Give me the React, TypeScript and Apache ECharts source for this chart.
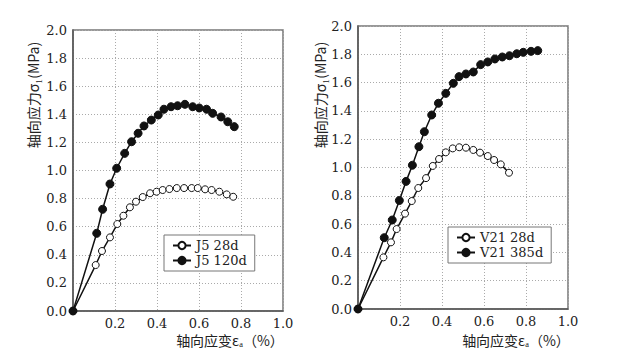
import React, { useEffect, useRef } from "react";
import * as echarts from "echarts";

const yTicks = [0.0, 0.2, 0.4, 0.6, 0.8, 1.0, 1.2, 1.4, 1.6, 1.8, 2.0];
const xTicks = [0.2, 0.4, 0.6, 0.8, 1.0];

const j5_28d_x = [0, 0.108, 0.138, 0.176, 0.211, 0.24, 0.271, 0.3, 0.332, 0.367, 0.398, 0.427, 0.459, 0.494, 0.529, 0.565, 0.594, 0.629, 0.66, 0.697, 0.732, 0.763];
const j5_28d_y = [0, 0.327, 0.427, 0.524, 0.619, 0.678, 0.738, 0.778, 0.811, 0.838, 0.849, 0.861, 0.868, 0.875, 0.875, 0.875, 0.875, 0.866, 0.861, 0.849, 0.83, 0.813];

const j5_120d_x = [0, 0.113, 0.141, 0.176, 0.208, 0.246, 0.279, 0.31, 0.338, 0.373, 0.406, 0.433, 0.467, 0.498, 0.533, 0.57, 0.601, 0.636, 0.665, 0.705, 0.737, 0.768];
const j5_120d_y = [0, 0.553, 0.724, 0.904, 1.016, 1.122, 1.205, 1.265, 1.317, 1.359, 1.395, 1.436, 1.454, 1.461, 1.471, 1.454, 1.445, 1.436, 1.407, 1.381, 1.347, 1.312];

const v21_28d_x = [0, 0.121, 0.157, 0.184, 0.224, 0.256, 0.287, 0.324, 0.356, 0.386, 0.418, 0.451, 0.482, 0.514, 0.549, 0.581, 0.618, 0.648, 0.68, 0.719];
const v21_28d_y = [0, 0.365, 0.471, 0.565, 0.674, 0.763, 0.855, 0.925, 1.011, 1.06, 1.107, 1.135, 1.143, 1.14, 1.124, 1.105, 1.081, 1.053, 1.022, 0.963];

const v21_385d_x = [0, 0.125, 0.163, 0.197, 0.229, 0.259, 0.29, 0.316, 0.351, 0.383, 0.418, 0.454, 0.481, 0.514, 0.549, 0.584, 0.618, 0.652, 0.687, 0.721, 0.756, 0.787, 0.824, 0.856];
const v21_385d_y = [0, 0.504, 0.629, 0.767, 0.902, 1.016, 1.147, 1.253, 1.371, 1.454, 1.524, 1.595, 1.642, 1.661, 1.675, 1.727, 1.746, 1.767, 1.781, 1.79, 1.804, 1.814, 1.821, 1.826];

const legendLeft = ["J5 28d", "J5 120d"];
const legendRight = ["V21 28d", "V21 385d"];

const SERIF = "DejaVu Serif";
const CJK = "Noto Sans CJK SC";

function zip(xs: number[], ys: number[]) {
  return xs.map((x, i) => [x, ys[i]]);
}

export default function App() {
  const ref = useRef<HTMLDivElement>(null);
  useEffect(() => {
    if (!ref.current) return;
    const chart = echarts.init(ref.current, null, { renderer: "svg" });
    const gridCommon = {
      show: true,
      borderColor: "#777",
      borderWidth: 1.5,
      backgroundColor: "transparent",
    };
    const labelStyle = {
      color: "#222",
      fontFamily: SERIF,
      fontSize: 13,
      fontWeight: "normal",
      margin: 6,
    };
    const mkX = (gi: number) => ({
      type: "value",
      gridIndex: gi,
      min: 0,
      max: 1,
      interval: 0.2,
      axisLine: { show: true, lineStyle: { color: "#555", width: 1.5 } },
      axisTick: { show: false },
      splitLine: { show: true, lineStyle: { color: "#aaa", type: [1, 2], width: 1 } },
      axisLabel: {
        ...labelStyle,
        formatter: (v: number) => (xTicks.some((t) => Math.abs(t - v) < 1e-6) ? v.toFixed(1) : ""),
      },
    });
    const mkY = (gi: number) => ({
      type: "value",
      gridIndex: gi,
      min: 0,
      max: 2,
      interval: 0.2,
      axisLine: { show: true, lineStyle: { color: "#555", width: 1.5 } },
      axisTick: { show: false },
      splitLine: { show: true, lineStyle: { color: "#aaa", type: [1, 2], width: 1 } },
      axisLabel: {
        ...labelStyle,
        formatter: (v: number) => (yTicks.some((t) => Math.abs(t - v) < 1e-6) ? v.toFixed(1) : ""),
      },
    });
    const open = (name: string, data: number[][], gi: number) => ({
      name,
      type: "line",
      xAxisIndex: gi,
      yAxisIndex: gi,
      data,
      symbol: "circle",
      symbolSize: 7,
      showAllSymbol: true,
      lineStyle: { color: "#111", width: 1.5 },
      itemStyle: { color: "#fff", borderColor: "#111", borderWidth: 1 },
      z: 3,
    });
    const filled = (name: string, data: number[][], gi: number) => ({
      name,
      type: "line",
      xAxisIndex: gi,
      yAxisIndex: gi,
      data,
      symbol: "circle",
      symbolSize: 8,
      showAllSymbol: true,
      lineStyle: { color: "#111", width: 1.5 },
      itemStyle: { color: "#111", borderColor: "#111", borderWidth: 1 },
      z: 4,
    });
    const legendCommon = {
      orient: "vertical",
      backgroundColor: "#fff",
      borderColor: "#777",
      borderWidth: 1,
      padding: [4, 8, 4, 8],
      itemGap: 2,
      itemWidth: 18,
      itemHeight: 9,
      textStyle: { fontFamily: SERIF, fontSize: 13, color: "#222" },
    };
    const titleStyle = { fontFamily: CJK, fontSize: 14, fill: "#222" };
    chart.setOption({
      animation: false,
      backgroundColor: "#fff",
      textStyle: { fontFamily: SERIF },
      grid: [
        { ...gridCommon, left: 73, top: 30, width: 210, height: 281 },
        { ...gridCommon, left: 358, top: 26, width: 210, height: 283 },
      ],
      xAxis: [mkX(0), mkX(1)],
      yAxis: [mkY(0), mkY(1)],
      legend: [
        { ...legendCommon, data: legendLeft, left: 164, top: 235 },
        { ...legendCommon, data: legendRight, left: 448, top: 227 },
      ],
      series: [
        open(legendLeft[0], zip(j5_28d_x, j5_28d_y), 0),
        filled(legendLeft[1], zip(j5_120d_x, j5_120d_y), 0),
        open(legendRight[0], zip(v21_28d_x, v21_28d_y), 1),
        filled(legendRight[1], zip(v21_385d_x, v21_385d_y), 1),
      ],
      graphic: [
        {
          type: "text",
          x: 33,
          y: 95,
          rotation: Math.PI / 2,
          style: { ...titleStyle, text: "轴向应力σ₁(MPa)", align: "center", verticalAlign: "middle" },
        },
        {
          type: "text",
          x: 320,
          y: 95,
          rotation: Math.PI / 2,
          style: { ...titleStyle, text: "轴向应力σ₁(MPa)", align: "center", verticalAlign: "middle" },
        },
        {
          type: "text",
          x: 230,
          y: 340,
          style: { ...titleStyle, text: "轴向应变εₐ（%）", align: "center", verticalAlign: "middle" },
        },
        {
          type: "text",
          x: 516,
          y: 340,
          style: { ...titleStyle, text: "轴向应变εₐ（%）", align: "center", verticalAlign: "middle" },
        },
      ],
    });
    return () => chart.dispose();
  }, []);
  return <div ref={ref} style={{ width: 625, height: 364, margin: -8 }} />;
}
